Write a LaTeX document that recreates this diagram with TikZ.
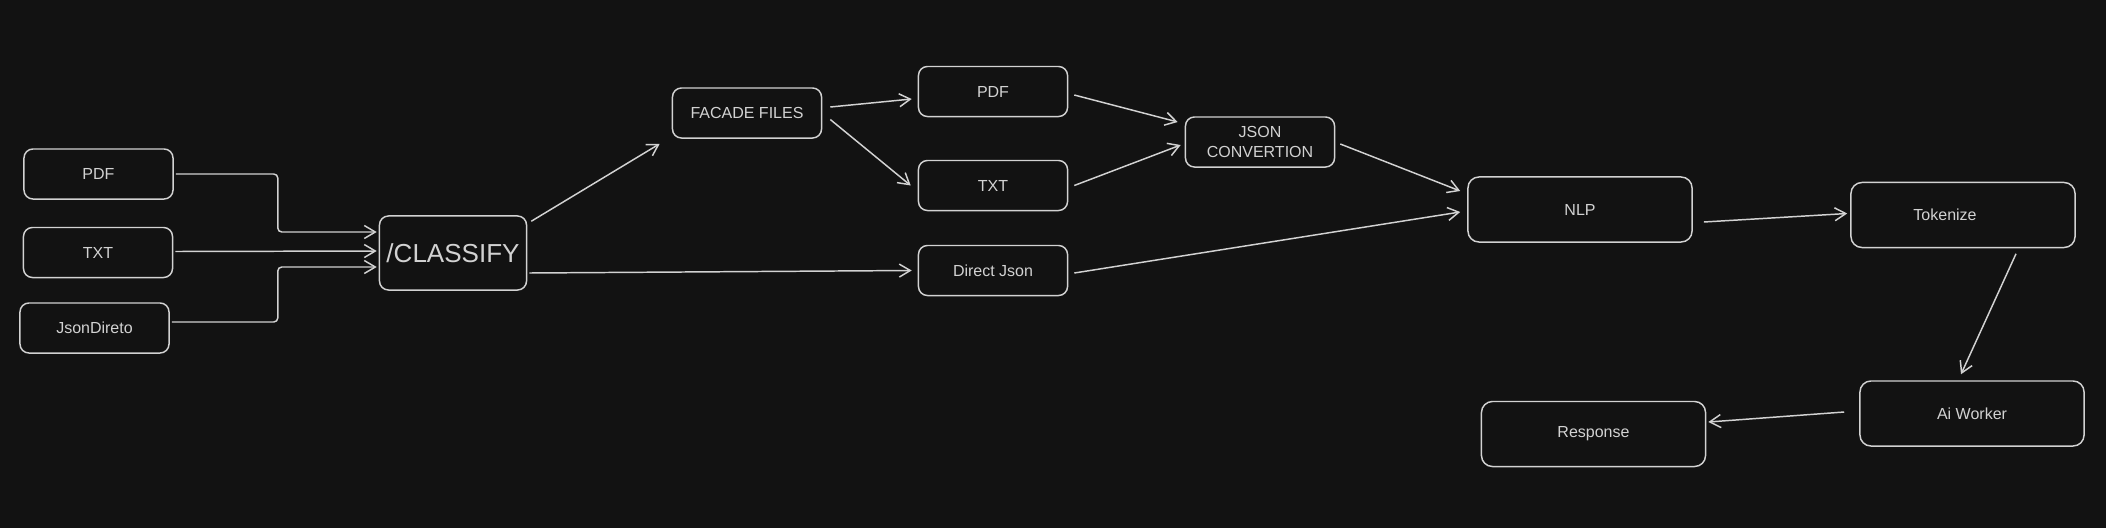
\documentclass[tikz,border=0pt]{standalone}
\usepackage{fontspec}
\setmainfont{Liberation Sans}
\usetikzlibrary{arrows.meta}
\definecolor{bgc}{HTML}{121212}
\definecolor{inkc}{HTML}{D2D2D2}
\newcommand\TxtS{\fontsize{4.55}{5.7}\selectfont}
\newcommand\TxtL{\fontsize{7.4}{9}\selectfont}

\begin{document}
\begin{tikzpicture}[x=0.01cm,y=-0.01cm,
    box/.style={draw=inkc,line width=0.42pt,rounded corners=0.09cm,text=inkc,font=\TxtS,
        inner sep=0pt,minimum width=1.49cm,minimum height=0.5cm},
    wide/.style={box,rounded corners=0.11cm,minimum width=2.24cm,minimum height=0.65cm},
    arr/.style={draw=inkc,line width=0.42pt,-{Straight Barb[length=1.1mm,width=1.3mm]}}]
        \useasboundingbox (0,0) rectangle (2106,527);
        \fill[bgc] (-10,-10) rectangle (2116,537);
        \node[box] (pdfin) at (98.5,174) {PDF};
        \node[box] (txtin) at (98,252.5) {TXT};
        \node[box] (jsonin) at (94.5,328) {JsonDireto};
        \node[box,font=\TxtL,minimum width=1.47cm,minimum height=0.74cm] (classify) at (453,253) {/CLASSIFY};
        \node[box] (facade) at (747,113) {FACADE FILES};
        \node[box] (pdfout) at (993,91.5) {PDF};
        \node[box] (txtout) at (993,185.5) {TXT};
        \node[box] (direct) at (993,270.5) {Direct Json};
        \node[box,align=center] (conv) at (1260,142) {JSON\\CONVERTION};
        \node[wide] (nlp) at (1580,209.5) {NLP};
        \node[wide] (tok) at (1963,215) {Tokenize\hspace*{0.36cm}};
        \node[wide] (ai) at (1972,413.5) {Ai Worker};
        \node[wide] (resp) at (1593.5,434) {Response};
        \draw[arr,rounded corners=0.04cm] ([shift={(2,0)}]pdfin.east) -- ++(102,0) |- ([shift={(-2,-21)}]classify.west);
        \draw[arr] ([shift={(2,-1)}]txtin.east) -- ([shift={(-2,-2)}]classify.west);
        \draw[arr,rounded corners=0.04cm] ([shift={(2,-6)}]jsonin.east) -- ++(106,0) |- ([shift={(-2,14)}]classify.west);
        \draw[arr] ([shift={(4,6)}]classify.north east) -- ([shift={(-12,5)}]facade.south west);
        \draw[arr] ([shift={(2,20)}]classify.east) -- ([shift={(-6,0)}]direct.west);
        \draw[arr] ([shift={(8,-6)}]facade.east) -- ([shift={(-6,7.5)}]pdfout.west);
        \draw[arr] ([shift={(8,6.5)}]facade.east) -- ([shift={(-7,0)}]txtout.west);
        \draw[arr] ([shift={(6,3.5)}]pdfout.east) -- ([shift={(-7,-20)}]conv.west);
        \draw[arr] ([shift={(6,0)}]txtout.east) -- ([shift={(-4,3)}]conv.west);
        \draw[arr] ([shift={(5,2)}]conv.east) -- ([shift={(-7,-18.5)}]nlp.west);
        \draw[arr] ([shift={(6,2.5)}]direct.east) -- ([shift={(-7,2.5)}]nlp.west);
        \draw[arr] ([shift={(11,12.5)}]nlp.east) -- ([shift={(-3,-1.5)}]tok.west);
        \draw[arr] ([shift={(53,5.5)}]tok.south) -- ([shift={(-11,-6)}]ai.north);
        \draw[arr] ([shift={(-15,-1.5)}]ai.west) -- ([shift={(2,-12)}]resp.east);
    \end{tikzpicture}
\end{document}
